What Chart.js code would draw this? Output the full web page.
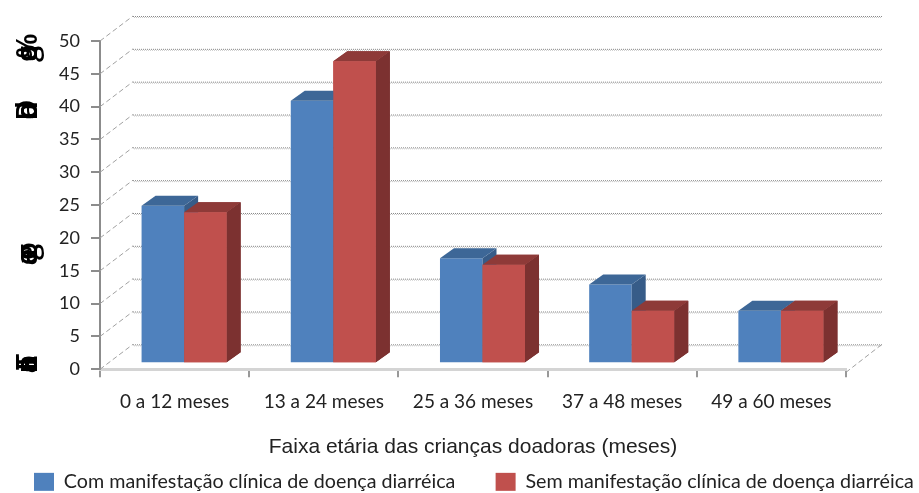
<!DOCTYPE html>
<html><head><meta charset="utf-8">
<style>html,body{margin:0;padding:0;background:#fff}#w{width:919px;height:493px;position:relative}</style>
<script src="https://cdn.jsdelivr.net/npm/chart.js@4"></script>
</head><body><div id="w"><canvas id="c" width="919" height="493"></canvas></div>
<script>
const categories = ["0 a 12 meses","13 a 24 meses","25 a 36 meses","37 a 48 meses","49 a 60 meses"];
const comManifestacao = [24,40,16,12,8];
const semManifestacao = [23,46,15,8,8];
const seriesNames = ["Com manifestação clínica de doença diarréica","Sem manifestação clínica de doença diarréica"];
const xAxisTitle = "Faixa etária das crianças doadoras (meses)";
const yTitleClusters = [
  {y:47, glyphs:[["%",-1],["a",6],["o",6],["g",7]]},
  {y:110, glyphs:[["D",0],["o",1],["d",0],["a",1]]},
  {y:254, glyphs:[["o",-3],["a",3],["g",-2],["e",3]]},
  {y:363, glyphs:[["E",0],["o",1],["a",2],["n",1],["T",-1]]}
];
const xTickFont = {family:"Lato", size:19};
const yTickFont = {family:"Lato", size:18};

const wall = {dx:33, dy:-25};
const barShift = {dx:9.5, dy:-6};
const barDepth = {dx:14, dy:-10};
const faces = [{top:"#3d6797", side:"#375c88"},{top:"#8e3a38", side:"#7c3130"}];

function drawFaces(ctx, meta, f){
  meta.data.forEach(b=>{
    const l=b.x-b.width/2, r=b.x+b.width/2, t=b.y, bo=b.base, d=barDepth;
    ctx.fillStyle=f.side;
    ctx.beginPath(); ctx.moveTo(r,t); ctx.lineTo(r+d.dx,t+d.dy); ctx.lineTo(r+d.dx,bo+d.dy); ctx.lineTo(r,bo); ctx.closePath(); ctx.fill();
    ctx.fillStyle=f.top;
    ctx.beginPath(); ctx.moveTo(l,t); ctx.lineTo(l+d.dx,t+d.dy); ctx.lineTo(r+d.dx,t+d.dy); ctx.lineTo(r,t); ctx.closePath(); ctx.fill();
  });
}

const scene = {
  id:"scene",
  afterLayout(chart){
    const lg = chart.legend;
    lg.left = 24; lg.right = 1100; lg.top = 462;
  },
  beforeDatasetsDraw(chart){
    const {ctx, scales:{x,y}} = chart;
    const L = x.left, R = x.right, y0 = y.getPixelForValue(0);
    ctx.save();
    y.ticks.forEach(t=>{
      const py = y.getPixelForValue(t.value);
      ctx.strokeStyle="#a0a0a0"; ctx.lineWidth=1; ctx.setLineDash([5,3]);
      ctx.beginPath(); ctx.moveTo(L,py); ctx.lineTo(L+wall.dx,py+wall.dy); ctx.stroke();
      ctx.setLineDash([1,1]); ctx.strokeStyle="#8a8a8a"; ctx.lineWidth=1;
      ctx.beginPath(); ctx.moveTo(L+wall.dx,py+wall.dy+.5); ctx.lineTo(R+wall.dx+3,py+wall.dy+.5); ctx.stroke();
      ctx.strokeStyle="#c8c8c8";
      ctx.beginPath(); ctx.moveTo(L+wall.dx+1,py+wall.dy+1.5); ctx.lineTo(R+wall.dx+3,py+wall.dy+1.5); ctx.stroke();
    });
    ctx.setLineDash([5,3]); ctx.strokeStyle="#a0a0a0"; ctx.lineWidth=1;
    ctx.beginPath(); ctx.moveTo(R,y0+3); ctx.lineTo(R+wall.dx+3,y0+wall.dy); ctx.stroke();
    ctx.restore();
  },
  beforeDatasetDraw(chart){
    chart.ctx.save();
    chart.ctx.translate(barShift.dx, barShift.dy);
  },
  afterDatasetDraw(chart, args){
    const ctx = chart.ctx;
    drawFaces(ctx, args.meta, faces[args.index]);
    if (args.index === 0) {          // the first series is painted last: put the second back in front
      const red = chart.getDatasetMeta(1);
      drawFaces(ctx, red, faces[1]);
      red.data.forEach(e=>e.draw(ctx));
    }
    ctx.restore();
  },
  afterDraw(chart){
    const ctx = chart.ctx;
    ctx.save();
    ctx.fillStyle="#000";
    ctx.font="600 29px 'Open Sans'";
    ctx.textAlign="center"; ctx.textBaseline="alphabetic";
    yTitleClusters.forEach(c=>{
      c.glyphs.forEach(([g,off])=>{
        ctx.save(); ctx.translate(37,c.y+off); ctx.rotate(-Math.PI/2); ctx.fillText(g,0,0); ctx.restore();
      });
    });
    ctx.restore();
  }
};

new Chart(document.getElementById("c"),{
  type:"bar",
  data:{labels:categories,datasets:[
    {label:seriesNames[0],data:comManifestacao,backgroundColor:"#4f81bd",clip:false},
    {label:seriesNames[1],data:semManifestacao,backgroundColor:"#c0504d",clip:false}
  ]},
  plugins:[scene],
  options:{
    responsive:false,animation:false,
    layout:{padding:{top:41,right:0,left:0,bottom:0}},
    datasets:{bar:{categoryPercentage:0.57,barPercentage:1}},
    plugins:{
      tooltip:{enabled:false},
      legend:{position:"bottom",align:"start",
        labels:{boxWidth:20,boxHeight:18,padding:10,color:"#222",font:{family:"Lato",size:19.7},
          generateLabels(chart){
            return Chart.defaults.plugins.legend.labels.generateLabels(chart).map((it,i)=>{
              it.text = i===0 ? it.text + "\u00A0".repeat(6) : it.text; it.lineWidth=0; return it;
            });
          }}}
    },
    scales:{
      x:{
        afterFit(s){s.height=84;},
        border:{color:"#d4d4d4",width:3},
        grid:{drawOnChartArea:false,offset:true,color:"#999",tickLength:8,lineWidth:2},
        ticks:{color:"#222",font:xTickFont,padding:13,maxRotation:0},
        title:{display:true,text:xAxisTitle,color:"#222",padding:{top:14,bottom:-7},font:{family:"'Liberation Sans'",size:21}}
      },
      y:{
        min:0,max:50,
        afterFit(s){s.width=100;},
        border:{color:"#8c8c8c",width:2},
        grid:{drawOnChartArea:false,color:"#8c8c8c",tickLength:9,lineWidth:2},
        ticks:{stepSize:5,color:"#222",font:yTickFont,padding:11}
      },
      rightGutter:{
        type:"linear",position:"right",
        afterFit(s){s.width=73;},
        border:{display:false},grid:{display:false},ticks:{display:false}
      }
    }
  }
});
</script></body></html>
